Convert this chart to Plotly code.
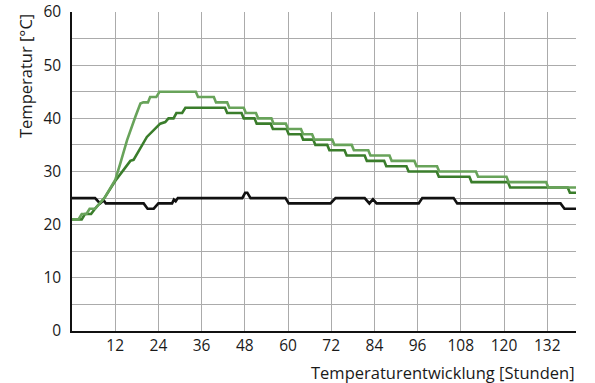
import plotly.graph_objects as go

# --- data (hours, temperature °C) ---
black_h = [0, 6.4, 7.8, 8.8, 9.4, 19.9, 21.0, 22.7, 24.0, 27.8, 28.3, 28.8, 29.4,
           47.3, 48.1, 48.7, 49.6, 59.3, 60.2, 71.8, 73.2, 81.3, 82.6, 83.6, 84.6,
           96.3, 97.3, 106.0, 107.0, 135.7, 136.8, 140]
black_t = [25, 25, 24, 24.6, 24, 24, 23, 23, 24, 24, 24.7, 24.4, 25,
           25, 26, 26, 25, 25, 24, 24, 25, 25, 24, 24.8, 24,
           24, 25, 25, 24, 24, 23, 23]

light_h = [0, 1.8, 2.7, 4.0, 4.9, 6.4, 9.0, 12.0, 13.4, 15.3, 17.6, 19.0, 19.8, 21.1,
           21.7, 23.4, 24.3, 34.4, 35.0, 39.4, 40.0, 43.1, 43.7, 47.7, 48.3,
           51.1, 51.7, 55.4, 56.0, 59.4, 60.0, 63.6, 64.2, 66.7, 67.3, 72.3, 72.9,
           77.7, 78.3, 82.3, 82.9, 88.2, 88.8, 95.1, 95.7, 101.4, 102.0,
           112.2, 112.8, 120.7, 121.3, 131.7, 132.3, 140]
light_t = [21, 21, 22, 22, 23, 23, 25, 28.4, 31.5, 35.9, 40.3, 42.8, 43, 43,
           44, 44, 45, 45, 44, 44, 43, 43, 42, 42, 41,
           41, 40, 40, 39, 39, 38, 38, 37, 37, 36, 36, 35,
           35, 34, 34, 33, 33, 32, 32, 31, 31, 30,
           30, 29, 29, 28, 28, 27, 27]

dark_h = [0, 2.7, 3.6, 5.3, 6.4, 9.0, 12.0, 16.2, 17.1, 20.8, 24.5, 25.9, 26.8, 28.2,
          29.0, 30.6, 31.5, 42.5, 43.1, 47.1, 47.7, 50.7, 51.3, 55.2, 55.8,
          59.6, 60.2, 63.6, 64.2, 67.0, 67.6, 70.9, 71.5, 75.7, 76.3, 81.3, 81.9,
          86.7, 87.3, 92.9, 93.5, 101.3, 101.9, 110.4, 111.0, 121.1, 121.7,
          137.7, 138.3, 140]
dark_t = [21, 21, 22, 22, 23, 25, 28.2, 32, 32.2, 36.5, 39, 39.3, 40, 40,
          41, 41, 42, 42, 41, 41, 40, 40, 39, 39, 38,
          38, 37, 37, 36, 36, 35, 35, 34, 34, 33, 33, 32,
          32, 31, 31, 30, 30, 29, 29, 28, 28, 27,
          27, 26, 26]

x_ticks = [12, 24, 36, 48, 60, 72, 84, 96, 108, 120, 132]
y_ticks = [0, 10, 20, 30, 40, 50, 60]
x_title = "Temperaturentwicklung [Stunden]"
y_title = "Temperatur [°C]"

FONT = "Open Sans"
GRID = "#ababab"

fig = go.Figure()
fig.add_trace(go.Scatter(x=black_h, y=black_t, mode="lines",
                         line=dict(color="#111111", width=2.6)))
fig.add_trace(go.Scatter(x=dark_h, y=dark_t, mode="lines",
                         line=dict(color="#3a7d2b", width=2.6)))
fig.add_trace(go.Scatter(x=light_h, y=light_t, mode="lines",
                         line=dict(color="#68a35a", width=2.6)))

fig.update_layout(
    width=595, height=383,
    margin=dict(l=72, r=19, t=12, b=52, autoexpand=False),
    plot_bgcolor="white", paper_bgcolor="white",
    showlegend=False,
    font=dict(family=FONT, size=15.5, color="#1a1a1a"),
    xaxis=dict(
        range=[0, 140], automargin=False,
        tickvals=x_ticks + [140],
        ticktext=[str(v) for v in x_ticks] + [""],
        showgrid=True, gridcolor=GRID, gridwidth=1,
        showline=True, linecolor="#111111", linewidth=1.5,
        zeroline=False, ticks="",
    ),
    yaxis=dict(
        range=[0, 60], automargin=False,
        tickvals=y_ticks,
        ticktext=[str(v) for v in y_ticks],
        showgrid=True, gridcolor=GRID, gridwidth=1,
        minor=dict(dtick=5, tick0=0, showgrid=True, gridcolor=GRID, gridwidth=1),
        showline=True, linecolor="#111111", linewidth=1.5,
        zeroline=False, ticks="", ticklabelstandoff=6,
    ),
    annotations=[
        dict(text=x_title, xref="paper", yref="paper", x=1, y=0,
             xanchor="right", yanchor="middle", yshift=-41, xshift=1,
             showarrow=False, font=dict(family=FONT, size=16.5)),
        dict(text=y_title, xref="paper", yref="paper", x=0, y=1,
             xanchor="center", yanchor="top", xshift=-47, yshift=0,
             textangle=-90, showarrow=False, font=dict(family=FONT, size=16.5)),
    ],
)

fig.write_html("out.html", config={"displayModeBar": False},
               post_script="document.body.style.margin='0';document.body.style.overflow='hidden';")
